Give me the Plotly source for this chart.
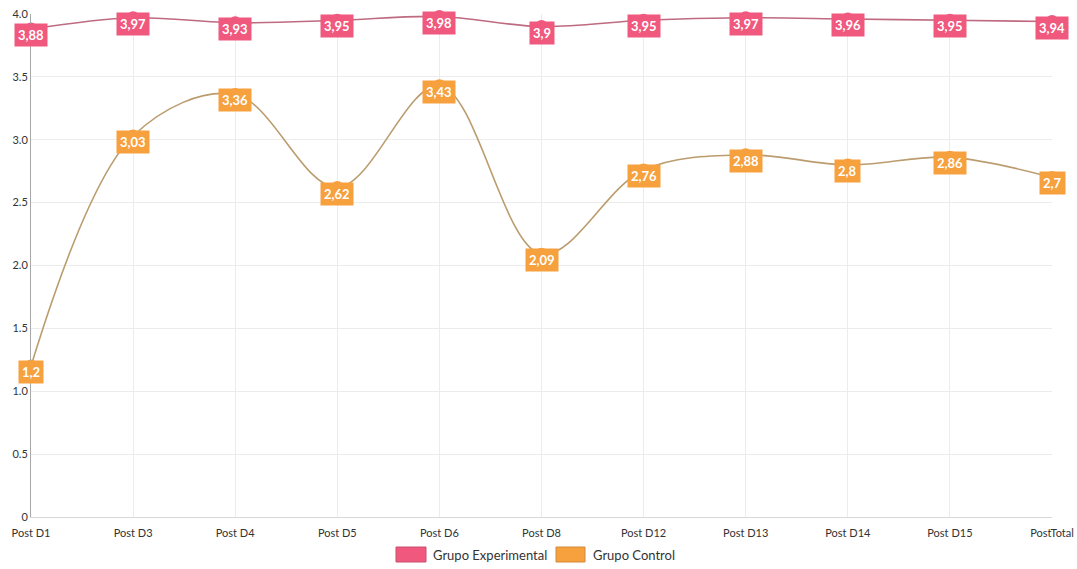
import plotly.graph_objects as go

categories = ["Post D1", "Post D3", "Post D4", "Post D5", "Post D6", "Post D8",
              "Post D12", "Post D13", "Post D14", "Post D15", "PostTotal"]
experimental = [3.88, 3.97, 3.93, 3.95, 3.98, 3.9, 3.95, 3.97, 3.96, 3.95, 3.94]
control = [1.2, 3.03, 3.36, 2.62, 3.43, 2.09, 2.76, 2.88, 2.8, 2.86, 2.7]
y_ticks = [0, 0.5, 1.0, 1.5, 2.0, 2.5, 3.0, 3.5, 4.0]
y_tick_text = ["0", "0.5", "1.0", "1.5", "2.0", "2.5", "3.0", "3.5", "4.0"]

series = [
    ("Grupo Experimental", experimental, "#f0587e", "#bf6a80", "#c4506c"),
    ("Grupo Control", control, "#f7a03e", "#bb9c6e", "#d08a38"),
]

W, H = 1077, 569
ML, MR, MT, MB = 31, 25, 14, 52
PW, PH = W - ML - MR, H - MT - MB


def px_x(px):
    return (px - ML) / PW


def px_y(py):
    return (H - MB - py) / PH


fig = go.Figure()
xs = list(range(len(categories)))

for name, vals, fill, line_col, edge in series:
    fig.add_trace(go.Scatter(
        x=xs, y=vals, mode="lines+markers", name=name, showlegend=False,
        line=dict(color=line_col, width=1.6, shape="spline", smoothing=1.0),
        marker=dict(size=13, color=fill, line=dict(width=0)),
        cliponaxis=False, hoverinfo="skip",
    ))
    for xi, v in zip(xs, vals):
        fig.add_annotation(
            x=xi, y=v, text="<b>" + f"{v:g}".replace(".", ",") + "</b>",
            showarrow=False, yshift=-6, bgcolor=fill, borderpad=3,
            font=dict(family="Lato", size=13, color="white"),
        )

# legend drawn below the plot: a wide swatch box followed by its label
legend_items = [(396, 426, 431), (556, 585, 591)]
for (sx0, sx1, tx), (name, _, fill, _, edge) in zip(legend_items, series):
    fig.add_shape(
        type="rect", xref="paper", yref="paper",
        x0=px_x(sx0), x1=px_x(sx1), y0=px_y(562), y1=px_y(547),
        fillcolor=fill, line=dict(color=edge, width=1),
    )
    fig.add_annotation(
        xref="paper", yref="paper", x=px_x(tx), y=px_y(554.5),
        xanchor="left", yanchor="middle", text=name, showarrow=False,
        font=dict(family="Lato", size=13, color="#333333"),
    )

fig.update_layout(
    width=W, height=H,
    margin=dict(l=ML, r=MR, t=MT, b=MB),
    paper_bgcolor="white", plot_bgcolor="white",
    font=dict(family="Lato", size=11, color="#333333"),
    showlegend=False,
    xaxis=dict(
        range=[0, len(categories) - 1], tickvals=xs, ticktext=categories,
        showgrid=True, gridcolor="#ececec", gridwidth=1,
        zeroline=False, showline=True, linecolor="#d8d8d8", linewidth=1,
        ticks="", ticklabelstandoff=6, tickfont=dict(size=11, color="#333333"),
    ),
    yaxis=dict(
        range=[0, 4], tickvals=y_ticks, ticktext=y_tick_text,
        showgrid=True, gridcolor="#ececec", gridwidth=1,
        zeroline=False, showline=True, linecolor="#a8a8a8", linewidth=1,
        ticks="", automargin=False, tickfont=dict(size=11, color="#333333"),
    ),
)
fig.update_xaxes(automargin=False)

fig.write_html("out.html")
